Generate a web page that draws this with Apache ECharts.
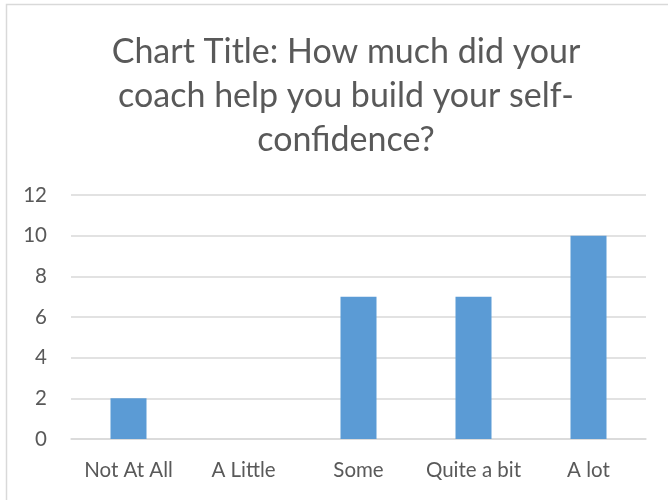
<!DOCTYPE html>
<html>
<head>
<meta charset="utf-8">
<script src="https://cdn.jsdelivr.net/npm/echarts@6/dist/echarts.min.js"></script>
<style>
html,body{margin:0;padding:0;background:#fff;}
#c{width:668px;height:500px;}
</style>
</head>
<body>
<div id="c"></div>
<script>
const categories = ["Not At All", "A Little", "Some", "Quite a bit", "A lot"];
const values = [2, 0, 7, 7, 10];
const titleText = "Chart Title: How much did your\ncoach help you build your self-\nconfidence?";
const yMin = 0, yMax = 12, yStep = 2;

const chart = echarts.init(document.getElementById('c'), null, {renderer: 'canvas'});
const FONT = 'Lato';
chart.setOption({
  animation: false,
  backgroundColor: '#ffffff',
  graphic: [{
    type: 'rect',
    shape: {x: 6.5, y: 4.5, width: 700, height: 600},
    style: {fill: 'none', stroke: '#d9d9d9', lineWidth: 1.5},
    silent: true
  }],
  title: {
    text: titleText,
    left: 341,
    textAlign: 'center',
    top: 25,
    textStyle: {
      fontFamily: FONT,
      fontSize: 34,
      fontWeight: 'normal',
      color: '#595959',
      lineHeight: 44
    }
  },
  grid: {left: 71, right: 22, top: 195, bottom: 61, containLabel: false},
  xAxis: {
    type: 'category',
    data: categories,
    axisLine: {show: true, lineStyle: {color: '#d9d9d9', width: 1.5}},
    axisTick: {show: false},
    axisLabel: {color: '#595959', fontSize: 20.5, fontFamily: FONT, margin: 21, interval: 0, hideOverlap: false}
  },
  yAxis: {
    type: 'value',
    min: yMin, max: yMax, interval: yStep,
    axisLine: {show: false},
    axisTick: {show: false},
    splitLine: {lineStyle: {color: '#d9d9d9', width: 1.5}},
    axisLabel: {color: '#595959', fontSize: 20.5, fontFamily: FONT, margin: 24}
  },
  series: [{
    type: 'bar',
    data: values,
    barWidth: 36,
    itemStyle: {color: '#5b9bd5'}
  }]
});
</script>
</body>
</html>
